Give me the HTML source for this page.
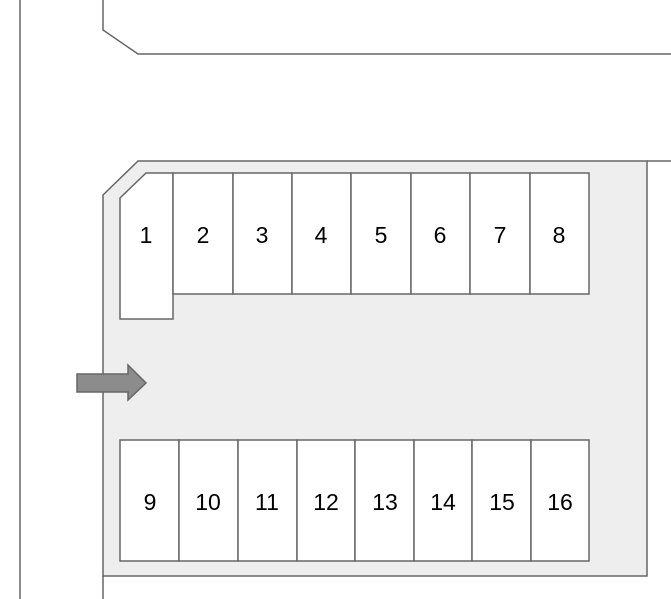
<!DOCTYPE html>
<html><head><style>body{margin:0;background:#fff}svg{display:block}</style></head><body>
<svg width="671" height="599" xmlns="http://www.w3.org/2000/svg" font-family="Liberation Sans, sans-serif" font-size="23" text-anchor="middle">
<g stroke="#666" stroke-width="1.5" fill="none">
<line x1="20" y1="0" x2="20" y2="599"/>
<polyline points="103,0 103,30 138,54 671,54"/>
<polygon points="103,195 138,161 647,161 647,576 103,576" fill="#eeeeee"/>
<line x1="647" y1="161" x2="671" y2="161"/>
<line x1="103" y1="576" x2="103" y2="599"/>
<polygon points="120,198 146,173 173,173 173,319 120,319" fill="#fff"/>
<g fill="#fff">
<rect x="173" y="173" width="60" height="121"/><rect x="233" y="173" width="59" height="121"/><rect x="292" y="173" width="59" height="121"/><rect x="351" y="173" width="60" height="121"/><rect x="411" y="173" width="59" height="121"/><rect x="470" y="173" width="60" height="121"/><rect x="530" y="173" width="59" height="121"/>
<rect x="120" y="440" width="59" height="121"/><rect x="179" y="440" width="59" height="121"/><rect x="238" y="440" width="59" height="121"/><rect x="297" y="440" width="58" height="121"/><rect x="355" y="440" width="59" height="121"/><rect x="414" y="440" width="58" height="121"/><rect x="472" y="440" width="59" height="121"/><rect x="531" y="440" width="58" height="121"/>
</g>
<polygon points="77,374 128,374 128,365 146,383 128,400 128,392 77,392" fill="#8c8c8c"/>
</g>
<g fill="#000">
<text x="146" y="243">1</text><text x="203" y="243">2</text><text x="262" y="243">3</text><text x="321" y="243">4</text><text x="381" y="243">5</text><text x="440" y="243">6</text><text x="500" y="243">7</text><text x="559" y="243">8</text>
<text x="150" y="510">9</text><text x="208" y="510">10</text><text x="267" y="510">11</text><text x="326" y="510">12</text><text x="385" y="510">13</text><text x="443" y="510">14</text><text x="502" y="510">15</text><text x="560" y="510">16</text>
</g>
</svg>
</body></html>
